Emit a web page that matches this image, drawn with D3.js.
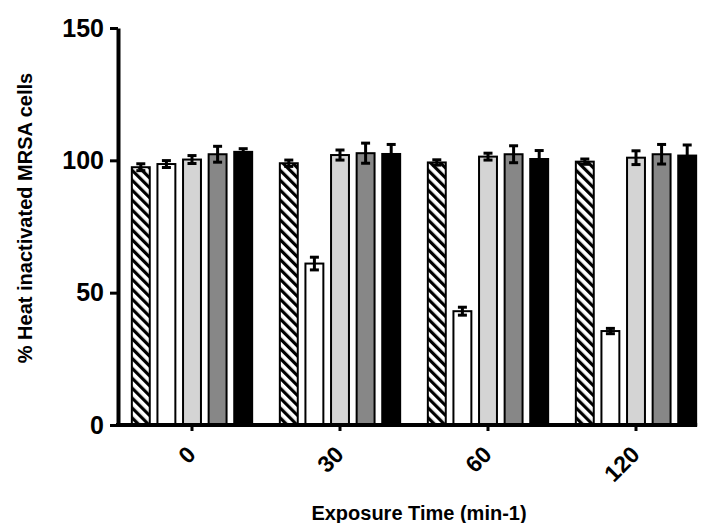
<!DOCTYPE html>
<html>
<head>
<meta charset="utf-8">
<script src="https://cdn.jsdelivr.net/npm/d3@7"></script>
<style>
  body { margin: 0; background: #fff; }
  text { font-family: "Liberation Sans", Arial, sans-serif; font-weight: bold; }
</style>
</head>
<body>
<svg id="chart" width="703" height="523"></svg>
<script>
// data
var groups = ['0', '30', '60', '120'];
var series = ['s1', 's2', 's3', 's4', 's5'];
var values = [
  [97.4, 98.6, 100.3, 102.3, 103.2],
  [98.9, 61.0, 102.0, 102.7, 102.4],
  [99.2, 43.0, 101.4, 102.3, 100.5],
  [99.5, 35.5, 101.0, 102.3, 101.8]
];
var errors = [
  [1.3, 1.3, 1.5, 3.0, 1.2],
  [1.2, 2.4, 1.9, 3.8, 3.6],
  [1.0, 1.5, 1.3, 3.2, 3.2],
  [1.0, 1.0, 2.6, 3.7, 4.0]
];
var fills = ['url(#hatch)', '#ffffff', '#d4d4d4', '#878787', '#000000'];
var yTicks = [0, 50, 100, 150];

var svg = d3.select('#chart');

// hatch pattern for the first series
var pat = svg.append('defs').append('pattern')
  .attr('id', 'hatch')
  .attr('patternUnits', 'userSpaceOnUse')
  .attr('width', 7).attr('height', 7)
  .attr('patternTransform', 'rotate(-45)');
pat.append('rect').attr('width', 7).attr('height', 7).attr('fill', '#fff');
pat.append('rect').attr('width', 3.2).attr('height', 7).attr('fill', '#000');

var y = d3.scaleLinear().domain([0, 150]).range([425, 28]);
var x0 = d3.scaleBand().domain(groups).range([118, 710]);
var half = x0.bandwidth() / 2;
var x1 = d3.scaleBand().domain(series).range([half - 64, half + 64])
  .paddingInner(0.3).paddingOuter(0.15);

// bars
var g = svg.selectAll('.grp')
  .data(groups)
  .enter().append('g')
  .attr('class', 'grp')
  .attr('transform', function (d) { return 'translate(' + x0(d) + ',0)'; });

g.each(function (grp, gi) {
  var sel = d3.select(this);
  series.forEach(function (s, si) {
    var v = values[gi][si];
    var e = errors[gi][si];
    var cx = x1(s) + x1.bandwidth() / 2;
    sel.append('rect')
      .attr('x', x1(s))
      .attr('y', y(v))
      .attr('width', x1.bandwidth())
      .attr('height', y(0) - y(v))
      .attr('fill', fills[si])
      .attr('stroke', '#000')
      .attr('stroke-width', 2);
    // error bar
    sel.append('line')
      .attr('x1', cx).attr('x2', cx)
      .attr('y1', y(v + e)).attr('y2', y(v - e))
      .attr('stroke', '#000').attr('stroke-width', 3);
    [v + e, v - e].forEach(function (c) {
      sel.append('line')
        .attr('x1', cx - 4.5).attr('x2', cx + 4.5)
        .attr('y1', y(c)).attr('y2', y(c))
        .attr('stroke', '#000').attr('stroke-width', 3);
    });
  });
});

// y axis
var yAxis = svg.append('g')
  .attr('transform', 'translate(118,0)')
  .call(d3.axisLeft(y).tickValues(yTicks).tickSize(8).tickSizeOuter(0));
yAxis.select('.domain').attr('stroke-width', 4);
yAxis.selectAll('.tick line').attr('stroke-width', 3);
yAxis.selectAll('.tick text')
  .attr('font-size', 25)
  .attr('x', -14)
  .attr('fill', '#000');

// x axis
var xEnd = x0(groups[groups.length - 1]) + x1(series[series.length - 1]) + x1.bandwidth() + 1;
var xAxis = svg.append('g')
  .attr('transform', 'translate(0,' + y(0) + ')')
  .call(d3.axisBottom(x0).tickSize(6).tickSizeOuter(0));
xAxis.select('.domain').remove();
xAxis.append('line')
  .attr('x1', 116).attr('x2', xEnd)
  .attr('y1', 0).attr('y2', 0)
  .attr('stroke', '#000').attr('stroke-width', 4);
xAxis.selectAll('.tick line').attr('stroke-width', 3);
xAxis.selectAll('.tick text')
  .attr('font-size', 23)
  .attr('fill', '#000')
  .attr('text-anchor', 'end')
  .attr('y', 0).attr('dy', 0)
  .attr('transform', 'translate(5,31) rotate(-45)');

// titles
svg.append('text')
  .attr('transform', 'translate(32,218) rotate(-90)')
  .attr('text-anchor', 'middle')
  .attr('font-size', 20)
  .text('% Heat inactivated MRSA cells');

svg.append('text')
  .attr('x', 419).attr('y', 520)
  .attr('text-anchor', 'middle')
  .attr('font-size', 20)
  .text('Exposure Time (min-1)');
</script>
</body>
</html>
